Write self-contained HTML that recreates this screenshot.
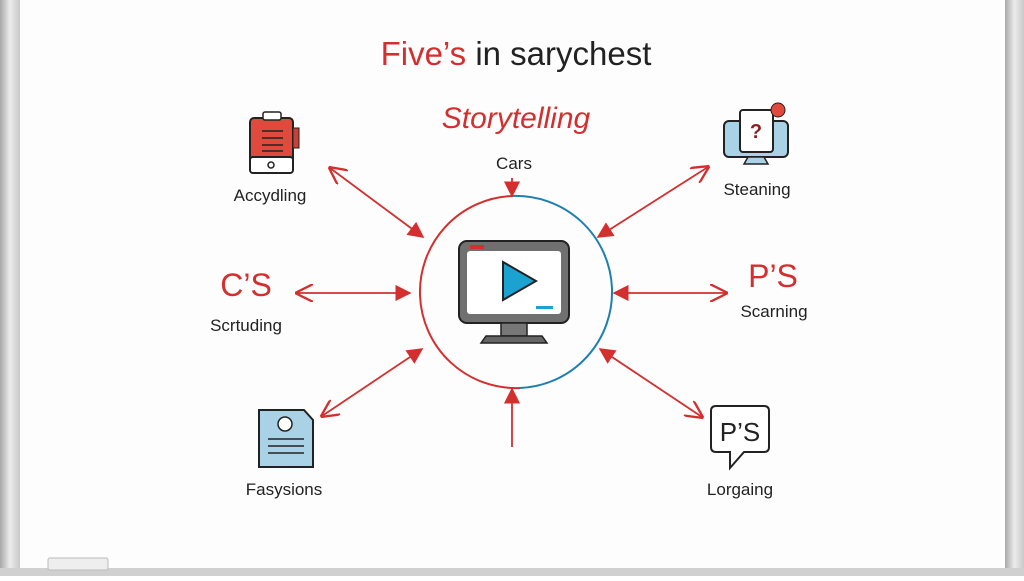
<!DOCTYPE html>
<html><head><style>
body{margin:0;width:1024px;height:576px;overflow:hidden;background:#fff;font-family:"Liberation Sans",sans-serif}
</style></head><body>
<svg width="1024" height="576" viewBox="0 0 1024 576" xmlns="http://www.w3.org/2000/svg">
<defs>
<linearGradient id="fl" x1="0" x2="1"><stop offset="0" stop-color="#a8a8a8"/><stop offset="0.5" stop-color="#ececec"/><stop offset="1" stop-color="#c8c8c8"/></linearGradient>
<marker id="f" viewBox="0 0 10 10" refX="9" refY="5" markerWidth="9" markerHeight="9" orient="auto-start-reverse"><path d="M0,0 L10,5 L0,10 z" fill="#d32f2f"/></marker>
<marker id="o" viewBox="0 0 10 10" refX="9" refY="5" markerWidth="10" markerHeight="10" orient="auto-start-reverse"><path d="M0,0 L10,5 L0,10" fill="none" stroke="#d32f2f" stroke-width="1.3"/></marker>
</defs>
<rect x="0" y="0" width="1024" height="576" fill="#fdfdfd"/>
<rect x="0" y="0" width="20" height="576" fill="url(#fl)"/>
<rect x="1005" y="0" width="19" height="576" fill="url(#fl)"/>
<rect x="0" y="568" width="1024" height="8" fill="#d0d0d0"/>
<rect x="48" y="558" width="60" height="12" rx="2" fill="#eee" stroke="#bbb"/>
<text x="516" y="65" font-size="33" text-anchor="middle" fill="#222"><tspan fill="#d32f2f">Five’s</tspan> in sarychest</text>
<text x="516" y="128" font-size="30" text-anchor="middle" fill="#d32f2f" font-style="italic">Storytelling</text>
<text x="514" y="169" font-size="17" text-anchor="middle" fill="#222">Cars</text>
<path d="M512,196 A96,96 0 0 0 520,388" fill="none" stroke="#d32f2f" stroke-width="2"/>
<path d="M512,196 A96,96 0 0 1 520,388" fill="none" stroke="#1f7fb0" stroke-width="2"/>
<rect x="459" y="241" width="110" height="82" rx="8" fill="#707070" stroke="#222" stroke-width="2"/>
<rect x="467" y="251" width="94" height="63" rx="3" fill="#fff"/>
<rect x="470" y="245" width="14" height="4" fill="#d32f2f"/>
<polygon points="503,262 503,300 536,281" fill="#1aa3d0" stroke="#222" stroke-width="2"/>
<rect x="536" y="306" width="17" height="3" fill="#1aa3d0"/>
<rect x="501" y="323" width="26" height="13" fill="#777" stroke="#222" stroke-width="1.5"/>
<path d="M481,343 L486,336 L542,336 L547,343 Z" fill="#666" stroke="#222" stroke-width="1.5"/>
<g stroke="#d32f2f" stroke-width="1.8" fill="none">
<line x1="512" y1="178" x2="512" y2="196" marker-end="url(#f)"/>
<line x1="330" y1="168" x2="423" y2="237" marker-start="url(#o)" marker-end="url(#f)"/>
<line x1="297" y1="293" x2="410" y2="293" marker-start="url(#o)" marker-end="url(#f)"/>
<line x1="322" y1="416" x2="422" y2="349" marker-start="url(#o)" marker-end="url(#f)"/>
<line x1="512" y1="447" x2="512" y2="389" marker-end="url(#f)"/>
<line x1="708" y1="167" x2="598" y2="237" marker-start="url(#o)" marker-end="url(#f)"/>
<line x1="726" y1="293" x2="614" y2="293" marker-start="url(#o)" marker-end="url(#f)"/>
<line x1="702" y1="417" x2="600" y2="349" marker-start="url(#o)" marker-end="url(#f)"/>
</g>
<rect x="250" y="118" width="43" height="55" rx="4" fill="#e04a3c" stroke="#222" stroke-width="2"/>
<rect x="250" y="157" width="43" height="16" rx="3" fill="#fff" stroke="#222" stroke-width="2"/>
<circle cx="271" cy="165" r="3" fill="none" stroke="#222" stroke-width="1.5"/>
<rect x="293" y="128" width="6" height="20" fill="#c94035" stroke="#222" stroke-width="1"/>
<rect x="263" y="112" width="18" height="8" rx="2" fill="#fff" stroke="#222" stroke-width="1.5"/>
<g stroke="#222" stroke-width="1.5"><line x1="262" y1="131" x2="283" y2="131"/><line x1="262" y1="138" x2="283" y2="138"/><line x1="262" y1="145" x2="283" y2="145"/><line x1="262" y1="151" x2="283" y2="151"/></g>
<text x="270" y="201" font-size="17" text-anchor="middle" fill="#222">Accydling</text>
<text x="246" y="296" font-size="32" text-anchor="middle" fill="#d32f2f">C’S</text>
<text x="246" y="331" font-size="17" text-anchor="middle" fill="#222">Scrtuding</text>
<path d="M259,410 L304,410 L313,420 L313,467 L259,467 Z" fill="#a9d2e6" stroke="#222" stroke-width="2"/>
<circle cx="285" cy="424" r="7" fill="#fff" stroke="#222" stroke-width="1.5"/>
<g stroke="#222" stroke-width="1.5"><line x1="268" y1="439" x2="304" y2="439"/><line x1="268" y1="446" x2="304" y2="446"/><line x1="268" y1="453" x2="304" y2="453"/></g>
<text x="284" y="495" font-size="17" text-anchor="middle" fill="#222">Fasysions</text>
<rect x="724" y="121" width="64" height="36" rx="5" fill="#a9d2e6" stroke="#222" stroke-width="2"/>
<path d="M748,157 L764,157 L768,164 L744,164 Z" fill="#a9d2e6" stroke="#222" stroke-width="1.5"/>
<rect x="740" y="110" width="33" height="42" rx="3" fill="#fff" stroke="#222" stroke-width="2"/>
<text x="756" y="138" font-size="20" font-weight="bold" text-anchor="middle" fill="#8b1f1f">?</text>
<circle cx="778" cy="110" r="7" fill="#e04a3c" stroke="#222" stroke-width="1"/>
<text x="757" y="195" font-size="17" text-anchor="middle" fill="#222">Steaning</text>
<text x="773" y="287" font-size="32" text-anchor="middle" fill="#d32f2f">P’S</text>
<text x="774" y="317" font-size="17" text-anchor="middle" fill="#222">Scarning</text>
<path d="M716,406 L764,406 Q769,406 769,411 L769,447 Q769,452 764,452 L744,452 L730,468 L730,452 L716,452 Q711,452 711,447 L711,411 Q711,406 716,406 Z" fill="#fff" stroke="#222" stroke-width="2"/>
<text x="740" y="441" font-size="26" text-anchor="middle" fill="#222">P’S</text>
<text x="740" y="495" font-size="17" text-anchor="middle" fill="#222">Lorgaing</text>
</svg>
</body></html>
